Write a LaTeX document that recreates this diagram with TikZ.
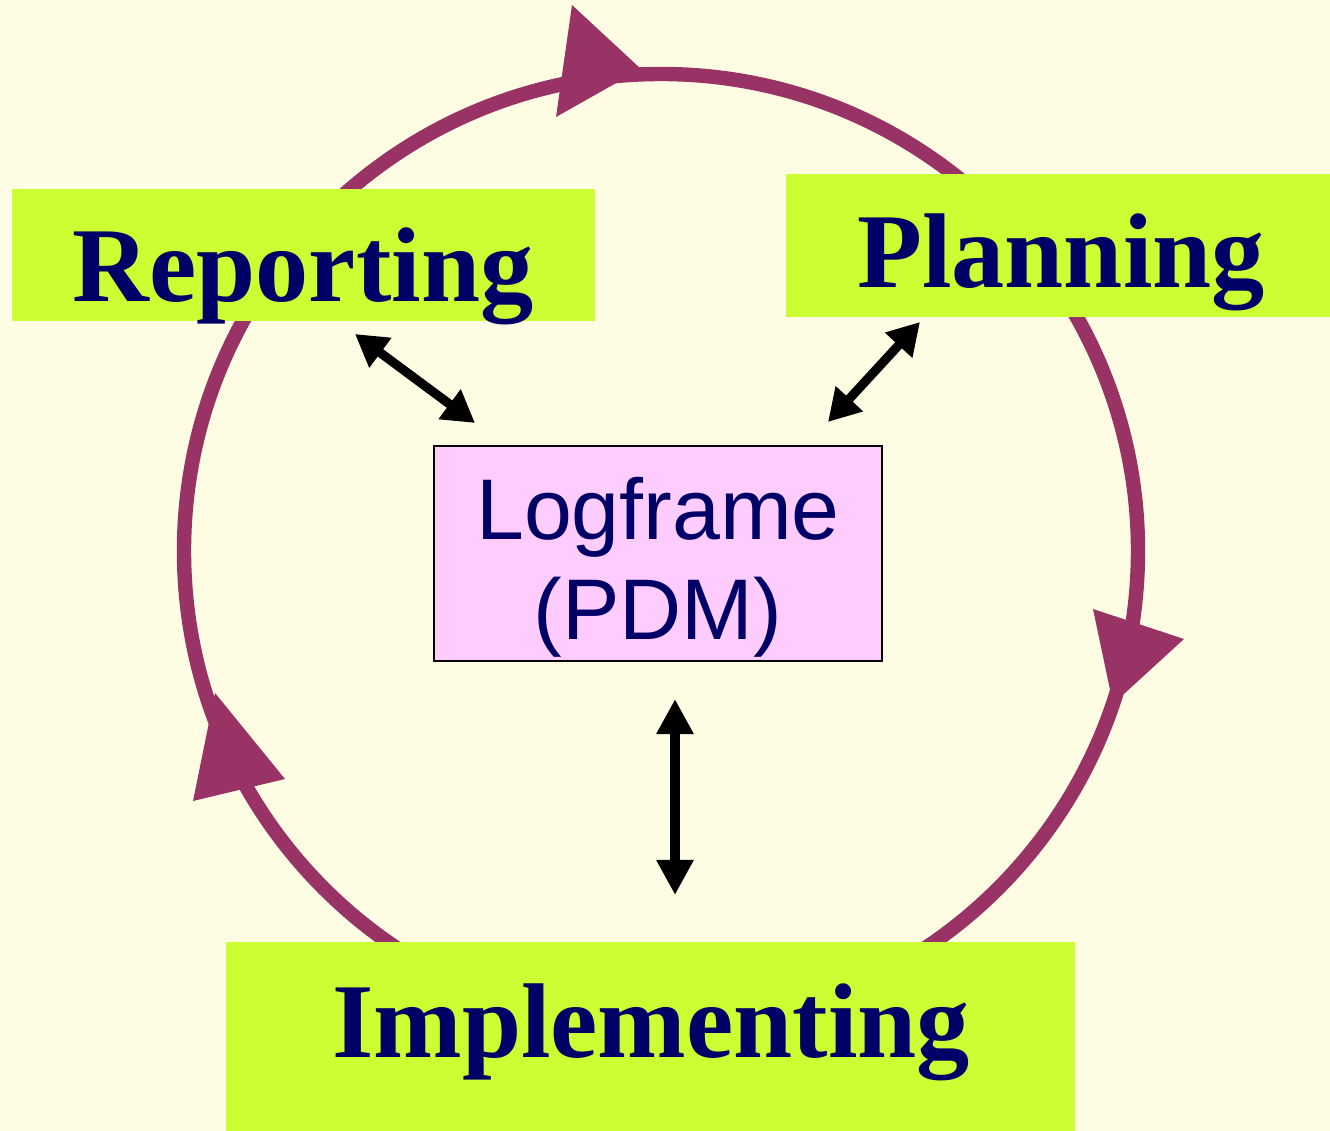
\documentclass[tikz,border=0pt]{standalone}
\usepackage{fontspec}
\setmainfont{Liberation Serif}
\newfontfamily\logsans{Liberation Sans}
\usetikzlibrary{arrows.meta}
\definecolor{bgc}{HTML}{FEFDE3}
\definecolor{ringc}{HTML}{993366}
\definecolor{greenbox}{HTML}{CCFF33}
\definecolor{navy}{HTML}{000066}
\definecolor{pinkbox}{HTML}{FFCCFF}
\tikzset{
  phase/.style={fill=greenbox, draw=none},
  phasetext/.style={anchor=base, text=navy, font=\fontsize{60.5}{72}\selectfont\bfseries, inner sep=0pt},
  logtext/.style={anchor=base, text=navy, font=\logsans\fontsize{49}{58}\selectfont, inner sep=0pt},
  ring/.style={draw=ringc, line width=8.2pt},
  ringhead/.style={fill=ringc, draw=none},
  dbl/.style={line width=5.2pt, {Triangle[length=18pt,width=20pt]}-{Triangle[length=18pt,width=20pt]}},
  dblv/.style={line width=6.2pt, {Triangle[length=20pt,width=20pt]}-{Triangle[length=20pt,width=20pt]}}
}
\begin{document}
\begin{tikzpicture}[x=0.02cm,y=-0.02cm]
\fill[bgc] (0,0) rectangle (1330,1131);
\useasboundingbox (0,0) rectangle (1330,1131);
% ring
\draw[ring] (661,551) circle[radius=477];
% ring arrowheads
\fill[ringhead] (641,69) -- (572,5) -- (556,117) -- cycle;
\fill[ringhead] (1113,704) -- (1093,609) -- (1184,639) -- cycle;
\fill[ringhead] (215,693) -- (285,779) -- (193,801) -- cycle;
% phase boxes
\fill[phase] (12,189) rectangle (595,321);
\fill[phase] (786,174) rectangle (1330,317);
\fill[phase] (226,942) rectangle (1075,1131);
\node[phasetext] (reporting) at (303,302) {Reporting};
\node[phasetext] (planning) at (1061,288) {Planning};
\node[phasetext] (implementing) at (651,1057) {Implementing};
% logframe
\draw[fill=pinkbox, draw=black, line width=0.8pt] (434,446) rectangle (882,661);
\node[logtext] (log1) at (658,540) {Logframe};
\node[logtext] (log2) at (658,640) {(PDM)};
% connector ends
\coordinate (repend) at (355,334);
\coordinate (replog) at (475,423);
\coordinate (planend) at (920,322);
\coordinate (planlog) at (828,422);
\coordinate (implog) at (675,699);
\coordinate (impend) at (675,895);
\draw[dbl] (repend) -- (replog);
\draw[dbl] (planend) -- (planlog);
\draw[dblv] (implog) -- (impend);
\end{tikzpicture}
\end{document}
